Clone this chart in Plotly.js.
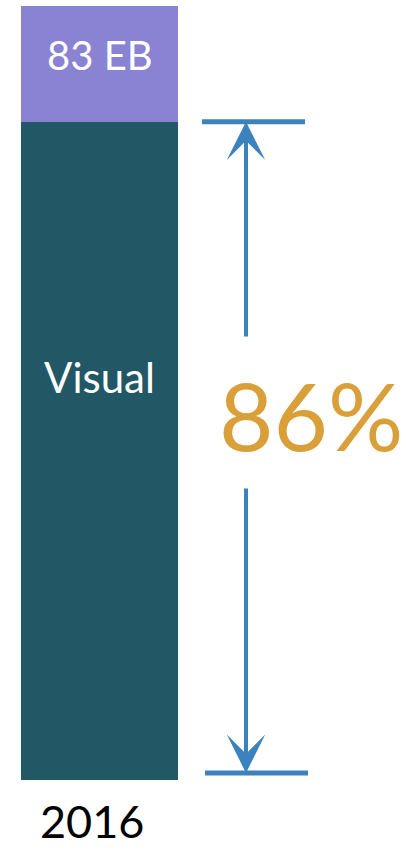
<!DOCTYPE html>
<html><head><meta charset="utf-8">
<script src="https://cdn.plot.ly/plotly-3.0.1.min.js"></script>
<style>html,body{margin:0;padding:0;background:#fff;}#chart{width:409px;height:850px;}</style>
</head><body><div id="chart"></div>
<script>
const categories = ["2016"];
const visualValues = [70.6];
const otherValues = [12.4];
const totalLabels = ["83 EB"];
const visualLabels = ["Visual"];
const shareLabel = "86%";

const teal = "#225866", purple = "#8A82D3", blue = "#3B82BE", gold = "#D9A03A";
const total = visualValues[0] + otherValues[0];
const yTop = total / (1 - 6 / 780);
const pxPerX = 157;
const x0 = -0.5 - 21 / pxPerX;
const px = p => x0 + p / pxPerX;
const py = p => (780 - p) * yTop / 780;

const traces = [
  {type: "bar", x: [0], y: visualValues, marker: {color: teal}, width: 1, hoverinfo: "skip"},
  {type: "bar", x: [0], y: otherValues, marker: {color: purple}, width: 1, hoverinfo: "skip"}
];
const font = "Lato, 'Open Sans', sans-serif";
const layout = {
  barmode: "stack", showlegend: false, width: 409, height: 850,
  margin: {l: 0, r: 0, t: 0, b: 70}, paper_bgcolor: "#fff", plot_bgcolor: "#fff",
  xaxis: {range: [x0, x0 + 409 / pxPerX], showticklabels: false,
          showgrid: false, zeroline: false, showline: false, ticks: ""},
  yaxis: {range: [0, yTop], visible: false, showgrid: false, zeroline: false},
  shapes: [
    {type: "line", xref: "x", yref: "y", x0: px(202), x1: px(305), y0: visualValues[0], y1: visualValues[0], line: {color: blue, width: 5}},
    {type: "line", xref: "x", yref: "y", x0: px(205), x1: px(308), y0: py(773), y1: py(773), line: {color: blue, width: 5}}
  ],
  annotations: [
    {x: px(246), y: visualValues[0], ax: px(246), ay: py(338), xref: "x", yref: "y", axref: "x", ayref: "y",
     showarrow: true, arrowhead: 3, arrowsize: 1.6, arrowwidth: 4, arrowcolor: blue, text: ""},
    {x: px(246), y: py(773), ax: px(246), ay: py(487), xref: "x", yref: "y", axref: "x", ayref: "y",
     showarrow: true, arrowhead: 3, arrowsize: 1.6, arrowwidth: 4, arrowcolor: blue, text: ""},
    {x: px(311), y: py(414), xref: "x", yref: "y", text: shareLabel, showarrow: false,
     font: {family: font, size: 94, color: gold}},
    {x: 0, y: py(55), xref: "x", yref: "y", text: totalLabels[0], showarrow: false,
     font: {family: font, size: 40, color: "#fff"}},
    {x: 0, y: py(377), xref: "x", yref: "y", text: visualLabels[0], showarrow: false,
     font: {family: font, size: 42, color: "#fff"}},
    {x: px(92), y: (780 - 821) / 780, xref: "x", yref: "paper", xanchor: "center", yanchor: "middle",
     borderpad: 0, text: categories[0], showarrow: false, font: {family: font, size: 45, color: "#000"}}
  ]
};
Plotly.newPlot("chart", traces, layout, {displayModeBar: false, staticPlot: true});
</script></body></html>
